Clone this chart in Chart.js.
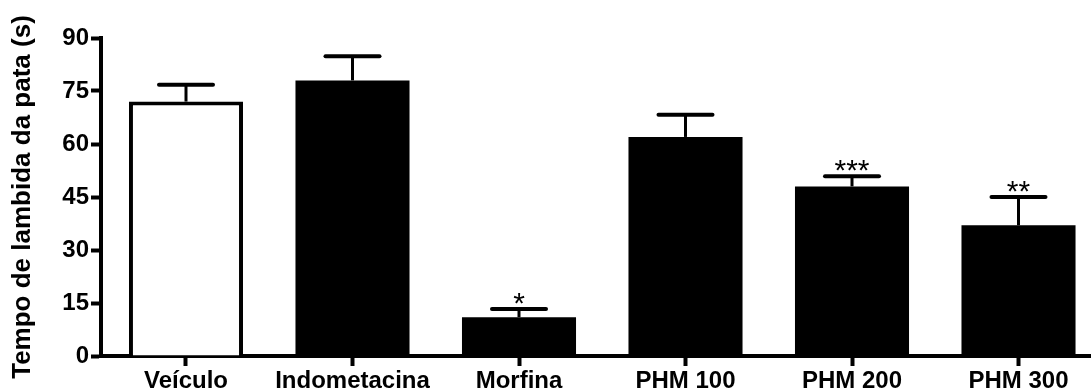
<!DOCTYPE html>
<html>
<head>
<meta charset="utf-8">
<script src="https://cdn.jsdelivr.net/npm/chart.js@4/dist/chart.umd.min.js"></script>
<style>
  html, body { margin: 0; padding: 0; background: #fff; }
  canvas { display: block; }
</style>
</head>
<body>
<canvas id="c" width="1091" height="390"></canvas>
<script>
const categories = ['Veículo', 'Indometacina', 'Morfina', 'PHM 100', 'PHM 200', 'PHM 300'];
const means = [72, 78, 11, 62, 48, 37];
const sem = [4.8, 6.8, 2.3, 6.3, 2.9, 8.0];
const significance = ['', '', '*', '', '***', '**'];
const yTicks = [0, 15, 30, 45, 60, 75, 90];
const yTitle = 'Tempo de lambida da pata (s)';

const FONT = '"Liberation Sans", Arial, sans-serif';

const errorBarPlugin = {
  id: 'errorBars',
  afterDatasetsDraw(chart) {
    const ctx = chart.ctx;
    const xs = chart.scales.x, ys = chart.scales.y;
    ctx.save();
    ctx.strokeStyle = '#000';
    ctx.fillStyle = '#000';
    means.forEach((m, i) => {
      const x = xs.getPixelForValue(i);
      const yTop = ys.getPixelForValue(m);
      const yErr = ys.getPixelForValue(m + sem[i]);
      ctx.lineCap = 'butt';
      ctx.lineWidth = 3;
      ctx.beginPath();
      ctx.moveTo(x, yTop);
      ctx.lineTo(x, yErr);
      ctx.stroke();
      ctx.lineCap = 'round';
      ctx.lineWidth = 4;
      ctx.beginPath();
      ctx.moveTo(x - 27, yErr);
      ctx.lineTo(x + 27, yErr);
      ctx.stroke();
      if (significance[i]) {
        ctx.font = '30px ' + FONT;
        ctx.textAlign = 'center';
        ctx.textBaseline = 'alphabetic';
        ctx.fillText(significance[i], x, yErr + 4);
      }
    });
    ctx.restore();
  }
};

new Chart(document.getElementById('c'), {
  type: 'bar',
  data: {
    datasets: [{
      data: means.map((v, i) => ({ x: i, y: v })),
      backgroundColor: means.map((v, i) => i === 0 ? '#ffffff' : '#000000'),
      borderColor: '#000000',
      borderWidth: means.map((v, i) => i === 0 ? 4 : 0),
      barPercentage: 0.685,
      categoryPercentage: 1.0
    }]
  },
  options: {
    responsive: false,
    animation: false,
    events: [],
    layout: { padding: { top: 38, right: 0, bottom: 0, left: 0 } },
    plugins: { legend: { display: false }, tooltip: { enabled: false } },
    scales: {
      x: {
        type: 'linear',
        offset: false,
        min: -0.5105,
        max: 5.4354,
        afterBuildTicks(scale) { scale.ticks = categories.map((c, i) => ({ value: i })); },
        afterFit(scale) { scale.height = 34; },
        grid: { offset: false, drawOnChartArea: false, drawTicks: true, tickLength: 10, tickWidth: 4, tickColor: '#000' },
        border: { display: true, color: '#000', width: 4 },
        ticks: {
          autoSkip: false,
          maxRotation: 0,
          padding: 1,
          color: '#000',
          font: { family: FONT, size: 24, weight: 'bold' },
          callback: (v) => categories[v] ?? ''
        }
      },
      y: {
        min: 0,
        max: 90,
        afterBuildTicks(scale) { scale.ticks = yTicks.map(v => ({ value: v })); },
        afterFit(scale) { scale.width = 101; },
        grid: { drawOnChartArea: false, drawTicks: true, tickLength: 10, tickWidth: 4, tickColor: '#000' },
        border: { display: true, color: '#000', width: 4 },
        ticks: {
          padding: 2,
          color: '#000',
          font: { family: FONT, size: 24, weight: 'bold' }
        },
        title: {
          display: true,
          text: yTitle,
          color: '#000',
          padding: { top: 9, bottom: 0 },
          font: { family: FONT, size: 26, weight: 'bold', lineHeight: 1.1 }
        }
      }
    }
  },
  plugins: [errorBarPlugin]
});
</script>
</body>
</html>
